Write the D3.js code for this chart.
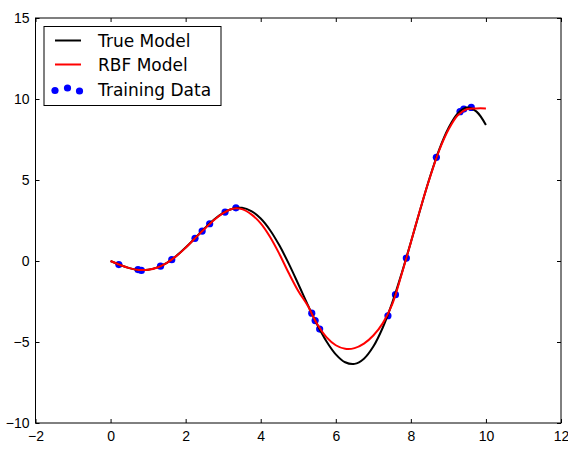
<!DOCTYPE html>
<html>
<head>
<meta charset="utf-8">
<script src="https://cdn.jsdelivr.net/npm/d3@7"></script>
<style>
  body { margin: 0; background: #fff; }
  svg { display: block; font-family: "DejaVu Sans", sans-serif; }
</style>
</head>
<body>
<div id="chart"></div>
<script>
var xs = [0, 0.25, 0.5, 0.75, 1, 1.25, 1.5, 1.75, 2, 2.25, 2.5, 2.75, 3, 3.25, 3.5, 3.75,
          4, 4.25, 4.5, 4.75, 5, 5.25, 5.5, 5.75, 6, 6.25, 6.5, 6.75, 7, 7.25, 7.5, 7.75,
          8, 8.25, 8.5, 8.75, 9, 9.25, 9.5, 9.75, 10];

var trueModel = [0, -0.24, -0.44, -0.55, -0.54, -0.39, -0.11, 0.31, 0.83, 1.41, 2.0, 2.54,
                 2.97, 3.23, 3.28, 3.08, 2.62, 1.90, 0.95, -0.18, -1.42, -2.69, -3.90, -4.95,
                 -5.76, -6.25, -6.35, -6.03, -5.28, -4.12, -2.60, -0.80, 1.16, 3.18, 5.12,
                 6.85, 8.20, 9.11, 9.47, 9.22, 8.39];

var rbfModel = [0, -0.24, -0.44, -0.55, -0.54, -0.40, -0.11, 0.30, 0.82, 1.40, 1.98, 2.52,
                2.95, 3.23, 3.20, 2.88, 2.32, 1.48, 0.42, -0.76, -1.85, -2.75, -3.88, -4.70,
                -5.20, -5.42, -5.38, -5.10, -4.60, -3.85, -2.70, -0.85, 1.15, 3.20, 5.10,
                6.80, 8.10, 9.00, 9.38, 9.42, 9.42];

var trainX = [0.22, 0.73, 0.82, 1.33, 1.63, 2.25, 2.44, 2.64, 3.05, 3.34,
              5.36, 5.45, 5.57, 7.39, 7.59, 7.88, 8.68, 9.31, 9.41, 9.61];
var trainY = [-0.22, -0.53, -0.58, -0.32, 0.08, 1.40, 1.85, 2.30, 3.02, 3.28,
              -3.22, -3.68, -4.20, -3.38, -2.08, 0.18, 6.40, 9.22, 9.38, 9.48];

var xTicks = [-2, 0, 2, 4, 6, 8, 10, 12];
var yTicks = [-10, -5, 0, 5, 10, 15];

var legendLabels = ["True Model", "RBF Model", "Training Data"];

var svg = d3.select("#chart").append("svg"),
    margin = {top: 18, right: 7, bottom: 37, left: 35.5},
    width = 568 - margin.left - margin.right,
    height = 460 - margin.top - margin.bottom,
    g = svg
    .attr("width", 568)
    .attr("height", 460)
    .append("g").attr("transform", "translate(" + margin.left + "," + margin.top + ")");

var x = d3.scaleLinear().domain([-2, 12]).range([0, width]),
    y = d3.scaleLinear().domain([-10, 15]).range([height, 0]);

var line = function(vals) {
  return d3.line()
    .x(function(d, i) { return x(xs[i]); })
    .y(function(d) { return y(d); })
    .curve(d3.curveCatmullRom.alpha(0.5))(vals);
};

function styleAxis(sel) {
  sel.select(".domain").remove();
  sel.selectAll(".tick line").attr("stroke", "#000");
  sel.selectAll(".tick text").attr("fill", "#000").style("font-size", "14px");
}

// bottom / left axes with labels, ticks pointing inwards
g.append("g")
    .attr("transform", "translate(0," + height + ")")
    .call(d3.axisBottom(x).tickValues(xTicks).tickSize(-4).tickPadding(8))
    .call(styleAxis);

g.append("g")
    .call(d3.axisLeft(y).tickValues(yTicks).tickSize(-4).tickPadding(6))
    .call(styleAxis);

// top / right ticks, no labels
g.append("g")
    .call(d3.axisTop(x).tickValues(xTicks).tickSize(-4).tickFormat(""))
    .call(styleAxis);

g.append("g")
    .attr("transform", "translate(" + width + ",0)")
    .call(d3.axisRight(y).tickValues(yTicks).tickSize(-4).tickFormat(""))
    .call(styleAxis);

g.append("rect")
    .attr("width", width)
    .attr("height", height)
    .attr("fill", "none")
    .attr("stroke", "#000")
    .attr("stroke-width", 1);

// training points
g.selectAll(".pt")
    .data(trainX)
  .enter().append("circle")
    .attr("class", "pt")
    .attr("cx", function(d) { return x(d); })
    .attr("cy", function(d, i) { return y(trainY[i]); })
    .attr("r", 3.6)
    .attr("fill", "#0000ff");

g.append("path")
    .attr("fill", "none")
    .attr("stroke", "#000")
    .attr("stroke-width", 2)
    .attr("stroke-linejoin", "round")
    .attr("d", line(trueModel));

g.append("path")
    .attr("fill", "none")
    .attr("stroke", "#ff0000")
    .attr("stroke-width", 2)
    .attr("stroke-linejoin", "round")
    .attr("d", line(rbfModel));

// legend
var legend = svg.append("g").attr("transform", "translate(44,26.5)");

legend.append("rect")
    .attr("width", 177)
    .attr("height", 79)
    .attr("fill", "#fff")
    .attr("stroke", "#000")
    .attr("stroke-width", 1);

var rowY = [14, 38, 63];
var legendColors = ["#000", "#ff0000"];

legendColors.forEach(function(c, i) {
  legend.append("line")
      .attr("x1", 11).attr("x2", 37)
      .attr("y1", rowY[i]).attr("y2", rowY[i])
      .attr("stroke", c)
      .attr("stroke-width", 2);
});

var dotX = [11, 23.5, 35.5],
    dotDy = [1, -1.5, 1.5];
dotX.forEach(function(dx, i) {
  legend.append("circle")
      .attr("cx", dx)
      .attr("cy", rowY[2] + dotDy[i])
      .attr("r", 3.6)
      .attr("fill", "#0000ff");
});

legend.selectAll(".lab")
    .data(legendLabels)
  .enter().append("text")
    .attr("x", 54)
    .attr("y", function(d, i) { return rowY[i]; })
    .attr("dy", "0.36em")
    .style("font-size", "17px")
    .attr("fill", "#000")
    .text(function(d) { return d; });
</script>
</body>
</html>
